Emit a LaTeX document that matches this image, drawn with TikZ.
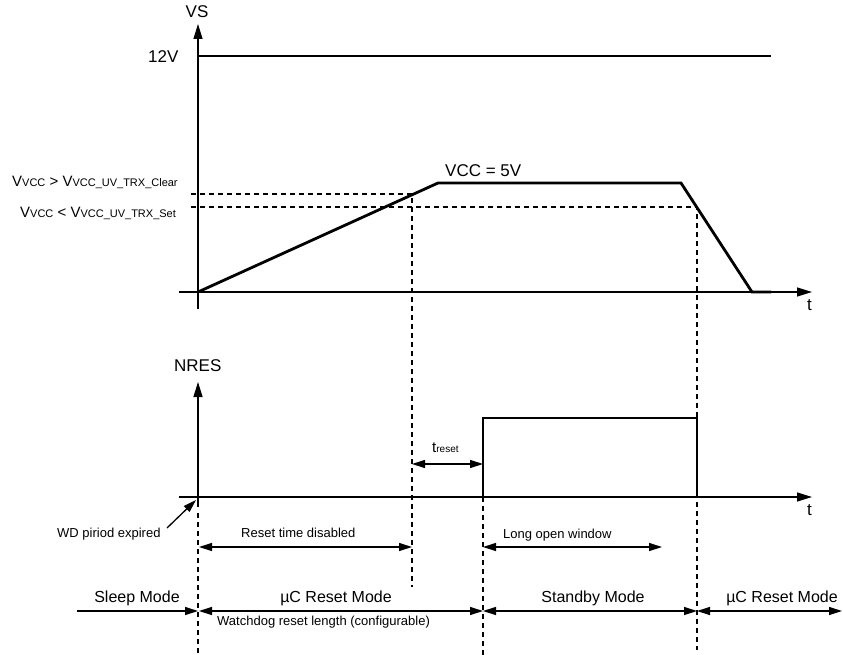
\documentclass[tikz,border=0pt]{standalone}
\usepackage{fontspec}
\setmainfont{Liberation Sans}
\usetikzlibrary{arrows.meta}
\newcommand{\fs}[1]{\fontsize{#1}{#1}\selectfont}
\begin{document}
\begin{tikzpicture}[x=1pt,y=-1pt,
  thinline/.style={line width=1.3pt},
  thickline/.style={line width=2.8pt, line join=miter},
  dashline/.style={line width=1.1pt, dash pattern=on 5pt off 4pt},
  axisarrow/.style={thinline, -{Triangle[length=15pt,width=9pt]}},
  dimarrow/.style={thinline, {Triangle[length=13pt,width=8pt]}-{Triangle[length=13pt,width=8pt]}},
  endarrow/.style={thinline, -{Triangle[length=13pt,width=8pt]}},
  lbl/.style={inner sep=0pt, font=\fs{16}},
  big/.style={inner sep=0pt, font=\fs{17}},
  small/.style={inner sep=0pt, font=\fs{13}},
  every node/.style={inner sep=0pt}]
\useasboundingbox (0,0) rectangle (843,655);
% ---------- coordinates ----------
\coordinate (O1) at (198,292);
\coordinate (Vtop) at (198,24);
\coordinate (Vbot) at (198,309);
\coordinate (H1l) at (179,292);
\coordinate (H1r) at (812,292);
\coordinate (S12l) at (198,56);
\coordinate (S12r) at (771,56);
\coordinate (Ra) at (438,183);
\coordinate (Rb) at (681,183);
\coordinate (Rc) at (752,292);
\coordinate (Rd) at (771,292);
\coordinate (DCl) at (191,194);
\coordinate (DCr) at (412,194);
\coordinate (DSl) at (191,207);
\coordinate (DSr) at (697,207);
\coordinate (D412b) at (412,587);
\coordinate (D697b) at (697,650);
\coordinate (O2) at (198,497);
\coordinate (N2top) at (198,382);
\coordinate (N2bot) at (198,507);
\coordinate (N2dash) at (198,513);
\coordinate (N2dashb) at (198,655);
\coordinate (H2l) at (179,497);
\coordinate (H2r) at (812,497);
\coordinate (Pa) at (483,497);
\coordinate (Pb) at (483,418);
\coordinate (Pc) at (697,418);
\coordinate (Pd) at (697,497);
\coordinate (Pe) at (771,497);
\coordinate (D483b) at (483,655);
\coordinate (TRl) at (412,464);
\coordinate (TRr) at (483,464);
\coordinate (WDs) at (167,528);
\coordinate (WDt) at (196,500);
\coordinate (RTl) at (199,547);
\coordinate (RTr) at (412,547);
\coordinate (LOl) at (483,547);
\coordinate (LOr) at (662,547);
\coordinate (M0) at (77,611);
\coordinate (M1) at (198,611);
\coordinate (M1b) at (199,611);
\coordinate (M2) at (483,611);
\coordinate (M3) at (697,611);
\coordinate (M4) at (842,611);
% ---------- upper diagram ----------
\draw[axisarrow] (Vbot) -- (Vtop);
\draw[axisarrow] (H1l) -- (H1r);
\draw[thickline] (S12l) -- (S12r);
\draw[thickline] (O1) -- (Ra) -- (Rb) -- (Rc) -- (Rd);
\draw[dashline] (DCl) -- (DCr) -- (D412b);
\draw[dashline] (DSl) -- (DSr) -- (D697b);
\node[big, anchor=base] (vs) at (197,18) {VS};
\node[big, anchor=base west] (v12) at (148,63) {12V};
\node[big, anchor=base west] (vcc) at (445,177) {VCC = 5V};
\node[big, anchor=base west] (t1) at (807,310) {t};
\node[anchor=base west, font=\fs{15}] (clr) at (12,187) {V{\fs{11}VCC} > V{\fs{11}VCC\_UV\_TRX\_Clear}};
\node[anchor=base west, font=\fs{15}] (set) at (20,218) {V{\fs{11}VCC} < V{\fs{11}VCC\_UV\_TRX\_Set}};
% ---------- lower diagram ----------
\draw[axisarrow] (N2bot) -- (N2top);
\draw[dashline] (N2dash) -- (N2dashb);
\draw[axisarrow] (H2l) -- (H2r);
\draw[thickline] (O2) -- (Pa) -- (Pb) -- (Pc) -- (Pd) -- (Pe);
\draw[dashline] (Pa) -- (D483b);
\draw[dimarrow] (TRl) -- (TRr);
\node[anchor=base west, font=\fs{15}] (tr) at (432,452) {t{\fs{10}reset}};
\node[big, anchor=base west] (nres) at (174,371) {NRES};
\node[big, anchor=base west] (t2) at (807,515) {t};
\draw[endarrow] (WDs) -- (WDt);
\node[small, anchor=base west] (wd) at (57,537) {WD piriod expired};
\draw[dimarrow] (RTl) -- (RTr);
\node[small, anchor=base west] (rtd) at (241,537) {Reset time disabled};
\draw[dimarrow] (LOl) -- (LOr);
\node[small, anchor=base west] (low) at (503,538) {Long open window};
% ---------- modes ----------
\draw[endarrow] (M0) -- (M1);
\draw[dimarrow] (M1b) -- (M2);
\draw[dimarrow] (M2) -- (M3);
\draw[dimarrow] (M3) -- (M4);
\node[lbl, anchor=base] (sleep) at (137,602) {Sleep Mode};
\node[lbl, anchor=base] (ucr1) at (336,602) {µC Reset Mode};
\node[lbl, anchor=base] (stby) at (593,602) {Standby Mode};
\node[lbl, anchor=base] (ucr2) at (782,602) {µC Reset Mode};
\node[small, anchor=base west] (wdl) at (217,625) {Watchdog reset length (configurable)};
\end{tikzpicture}
\end{document}
